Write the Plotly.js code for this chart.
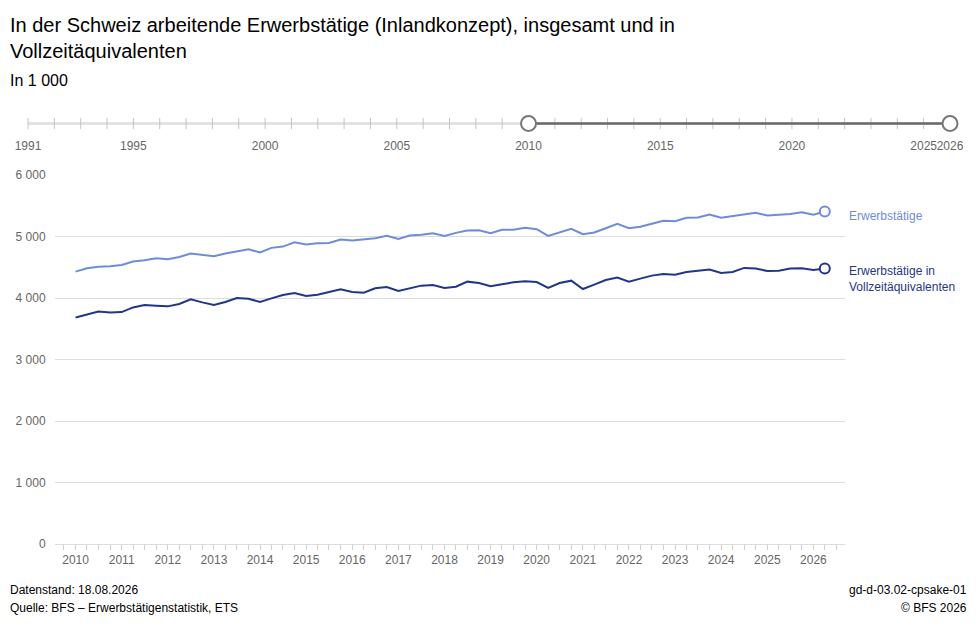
<!DOCTYPE html>
<html>
<head>
<meta charset="utf-8">
<script src="https://cdn.plot.ly/plotly-3.0.1.min.js"></script>
<style>html,body{margin:0;padding:0;background:#fff;}#chart{width:979px;height:637px;}</style>
</head>
<body>
<div id="chart"></div>
<script>
// ---- data ----
var startYear = 2010;
var quarterCount = 66; // 2010 Q1 .. 2026 Q2
var erwerbstaetige = [4429,4483,4510,4516,4537,4592,4613,4646,4630,4668,4722,4706,4679,4722,4755,4793,
  4739,4815,4836,4907,4872,4891,4896,4951,4934,4951,4972,5010,4961,5016,5027,5054,5010,5059,5097,5103,
  5054,5108,5108,5141,5119,5010,5068,5124,5038,5065,5135,5206,5135,5157,5206,5255,5250,5304,5309,5358,
  5304,5331,5347,5385,5342,5358,5364,5396,5353,5407];
var vollzeit = [3684,3728,3782,3766,3771,3847,3885,3874,3864,3902,3978,3929,3885,3934,4000,3989,
  3934,3994,4048,4081,4032,4054,4097,4141,4097,4086,4157,4179,4114,4157,4201,4212,4163,4184,4266,4244,
  4190,4222,4255,4271,4260,4163,4244,4282,4146,4217,4293,4331,4266,4315,4364,4391,4380,4424,4445,4462,
  4407,4424,4489,4478,4440,4445,4478,4483,4456,4478];
var xTickYears = [2010,2011,2012,2013,2014,2015,2016,2017,2018,2019,2020,2021,2022,2023,2024,2025,2026];
var sliderYears = [1991,1992,1993,1994,1995,1996,1997,1998,1999,2000,2001,2002,2003,2004,2005,2006,2007,2008,
  2009,2010,2011,2012,2013,2014,2015,2016,2017,2018,2019,2020,2021,2022,2023,2024,2025,2026];
var sliderLabels = [1991,1995,2000,2005,2010,2015,2020,2025,2026];
var sliderSelection = [2010, 2026];
var seriesNames = ['Erwerbstätige', 'Erwerbstätige in<br>Vollzeitäquivalenten'];

// quarter start dates
var quarters = [];
for (var i = 0; i < quarterCount; i++) {
  var y = startYear + Math.floor(i / 4);
  var m = (i % 4) * 3 + 1;
  quarters.push(y + '-' + (m < 10 ? '0' + m : m) + '-01');
}

var cLight = '#6f8cdb';
var cDark = '#1f3689';
var FONT = 'Liberation Sans, Arial, Helvetica, sans-serif';
var last = quarterCount - 1;

var traces = [
  // slider
  {x: [sliderYears[0], sliderYears[sliderYears.length-1]], y: [0.5, 0.5], xaxis: 'x2', yaxis: 'y2',
   mode: 'lines', line: {color: '#e3e3e3', width: 3}, hoverinfo: 'skip', showlegend: false, cliponaxis: false},
  {x: sliderYears, y: sliderYears.map(function(){return 0.5;}), xaxis: 'x2', yaxis: 'y2',
   mode: 'markers', marker: {symbol: 'line-ns-open', size: 8, color: '#c4c4c4', line: {color: '#c4c4c4', width: 1}},
   hoverinfo: 'skip', showlegend: false, cliponaxis: false},
  {x: sliderSelection, y: [0.5, 0.5], xaxis: 'x2', yaxis: 'y2',
   mode: 'lines', line: {color: '#6a6a6a', width: 2.5}, hoverinfo: 'skip', showlegend: false, cliponaxis: false},
  {x: sliderSelection, y: [0.5, 0.5], xaxis: 'x2', yaxis: 'y2',
   mode: 'markers', marker: {symbol: 'circle', size: 15, color: '#ffffff', line: {color: '#777777', width: 2}},
   hoverinfo: 'skip', showlegend: false, cliponaxis: false},
  // main series
  {x: quarters, y: erwerbstaetige, mode: 'lines', line: {color: cLight, width: 2}, name: seriesNames[0], showlegend: false},
  {x: quarters, y: vollzeit, mode: 'lines', line: {color: cDark, width: 2}, name: seriesNames[1], showlegend: false},
  {x: [quarters[last]], y: [erwerbstaetige[last]], mode: 'markers', cliponaxis: false,
   marker: {symbol: 'circle', size: 10, color: '#ffffff', line: {color: cLight, width: 2}}, showlegend: false, hoverinfo: 'skip'},
  {x: [quarters[last]], y: [vollzeit[last]], mode: 'markers', cliponaxis: false,
   marker: {symbol: 'circle', size: 10, color: '#ffffff', line: {color: cDark, width: 2}}, showlegend: false, hoverinfo: 'skip'}
];

var L = 15, R = 29, T = 110, B = 93;
var W = 979 - L - R, H = 637 - T - B;
function px(x) { return (x - L) / W; }
function py(y) { return (637 - B - y) / H; }

var layout = {
  width: 979, height: 637,
  margin: {l: L, r: R, t: T, b: B},
  paper_bgcolor: '#fff', plot_bgcolor: '#fff',
  separators: '. ',
  font: {family: FONT, size: 12, color: '#666'},
  showlegend: false,
  xaxis: {
    type: 'date', domain: [px(55), px(845)],
    range: ['2009-07-22', '2026-09-08'],
    tickmode: 'array', tickvals: xTickYears.map(function(y){return y + '-01-01';}),
    ticktext: xTickYears.map(String),
    ticks: 'outside', ticklen: 5, tickcolor: '#d0d0d0', tickwidth: 1,
    minor: {tickmode: 'linear', tick0: '2010-01-01', dtick: 'M3', ticks: 'outside', ticklen: 5, tickcolor: '#d0d0d0', showgrid: false},
    showgrid: false, showline: true, linecolor: '#dddddd', linewidth: 1, zeroline: false,
    tickangle: 0, tickfont: {size: 12, color: '#666'}, anchor: 'y', fixedrange: true
  },
  yaxis: {
    domain: [0, py(175)], range: [0, 6000], dtick: 1000, tickformat: ',d',
    showgrid: true, gridcolor: '#dddddd', gridwidth: 1, zeroline: false, showline: false,
    ticks: 'outside', ticklen: 6, tickcolor: 'rgba(0,0,0,0)',
    tickfont: {size: 12, color: '#666'}, anchor: 'x', fixedrange: true
  },
  xaxis2: {
    domain: [px(28), px(950)], range: [sliderYears[0], sliderYears[sliderYears.length-1]], anchor: 'y2',
    tickmode: 'array', tickvals: sliderLabels, ticktext: sliderLabels.map(String),
    ticks: '', showgrid: false, showline: false, zeroline: false, tickangle: 0,
    tickfont: {size: 12, color: '#666'}, fixedrange: true
  },
  yaxis2: {
    domain: [py(137), py(109)], range: [0, 1], anchor: 'x2', visible: false, fixedrange: true
  },
  annotations: [
    {text: 'In der Schweiz arbeitende Erwerbstätige (Inlandkonzept), insgesamt und in<br>Vollzeitäquivalenten',
     xref: 'paper', yref: 'paper', x: px(8), y: py(12), xanchor: 'left', yanchor: 'top', align: 'left',
     showarrow: false, font: {size: 20, color: '#000', family: FONT}},
    {text: 'In 1 000', xref: 'paper', yref: 'paper', x: px(8), y: py(70), xanchor: 'left', yanchor: 'top', align: 'left',
     showarrow: false, font: {size: 16, color: '#000', family: FONT}},
    {text: seriesNames[0], xref: 'x', yref: 'y', x: quarters[last], y: erwerbstaetige[last], xanchor: 'left', yanchor: 'middle',
     xshift: 22, yshift: -5, align: 'left', showarrow: false, font: {size: 12, color: cLight, family: FONT}},
    {text: seriesNames[1], xref: 'x', yref: 'y', x: quarters[last], y: vollzeit[last], xanchor: 'left', yanchor: 'top',
     xshift: 22, yshift: 7, align: 'left', showarrow: false, font: {size: 12, color: cDark, family: FONT}},
    {text: 'Datenstand: 18.08.2026', xref: 'paper', yref: 'paper', x: px(8), y: py(590), xanchor: 'left', yanchor: 'middle',
     showarrow: false, font: {size: 12, color: '#000', family: FONT}},
    {text: 'Quelle: BFS – Erwerbstätigenstatistik, ETS', xref: 'paper', yref: 'paper', x: px(8), y: py(608), xanchor: 'left', yanchor: 'middle',
     showarrow: false, font: {size: 12, color: '#000', family: FONT}},
    {text: 'gd-d-03.02-cpsake-01', xref: 'paper', yref: 'paper', x: px(969), y: py(590), xanchor: 'right', yanchor: 'middle',
     showarrow: false, font: {size: 12, color: '#000', family: FONT}},
    {text: '© BFS 2026', xref: 'paper', yref: 'paper', x: px(969), y: py(608), xanchor: 'right', yanchor: 'middle',
     showarrow: false, font: {size: 12, color: '#000', family: FONT}}
  ]
};

Plotly.newPlot('chart', traces, layout, {displayModeBar: false, staticPlot: true});
</script>
</body>
</html>
